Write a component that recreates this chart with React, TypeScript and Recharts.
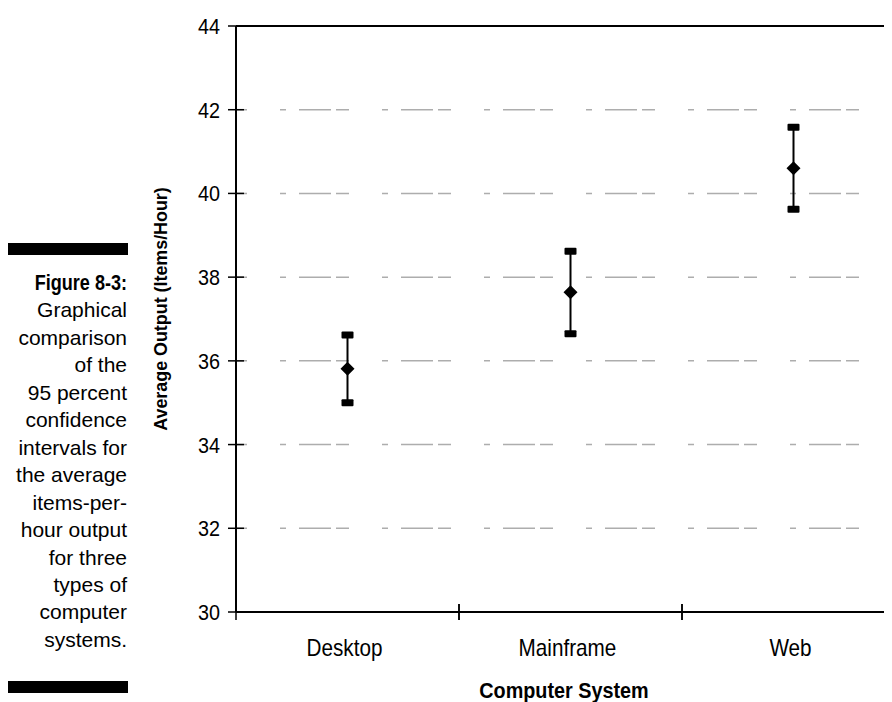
import React from 'react';
import {
  ComposedChart,
  Scatter,
  XAxis,
  YAxis,
  CartesianGrid,
  ErrorBar,
  ReferenceLine,
} from 'recharts';

// values (items per hour)
const systems = ['Desktop', 'Mainframe', 'Web'];
const means = [35.81, 37.64, 40.6];
const lowers = [35.0, 36.65, 39.62];
const uppers = [36.62, 38.62, 41.58];
const yTicks = [30, 32, 34, 36, 38, 40, 42, 44];

const captionLines = [
  'Graphical',
  'comparison',
  'of the',
  '95 percent',
  'confidence',
  'intervals for',
  'the average',
  'items-per-',
  'hour output',
  'for three',
  'types of',
  'computer',
  'systems.',
];

const data = systems.map((name, i) => ({
  name,
  mean: means[i],
  lower: lowers[i],
  upper: uppers[i],
  err: [means[i] - lowers[i], uppers[i] - means[i]],
}));

const FONT = "'Liberation Sans', Arial, sans-serif";
const CHART_W = 910;
const CHART_H = 694;
const PLOT_LEFT = 228;
const PLOT_RIGHT = 13;
const BAND = (CHART_W - PLOT_LEFT - PLOT_RIGHT) / systems.length;

// long / short dash pattern of the gridlines
const gridDash = '11 33 ' + Array(7).fill('6 13 32 5 13 33').join(' ');

const Diamond = (props: any) => {
  const { cx, cy } = props;
  if (cx == null || cy == null) return null;
  return <polygon points={`${cx},${cy - 7} ${cx + 7},${cy} ${cx},${cy + 7} ${cx - 7},${cy}`} fill="#000" />;
};

const Cap = (props: any) => {
  const { cx, cy } = props;
  if (cx == null || cy == null) return null;
  return <rect x={cx - 6} y={cy - 3.5} width={12} height={7} rx={1} fill="#000" />;
};

const YTick = (props: any) => {
  const { x, y, payload } = props;
  return (
    <g>
      <line x1={x + 8} x2={x + 24} y1={y} y2={y} stroke="#000" strokeWidth={1.5} />
      <text
        transform={`translate(${x},${y}) scale(0.9,1)`}
        dy={8}
        textAnchor="end"
        fontFamily={FONT}
        fontSize={22}
        fill="#000"
      >
        {payload.value}
      </text>
    </g>
  );
};

const XTick = (props: any) => {
  const { x, y, payload } = props;
  return (
    <g>
      <line x1={x - BAND / 2} x2={x - BAND / 2} y1={y - 8} y2={y + 8} stroke="#000" strokeWidth={1.5} />
      <line x1={x + BAND / 2} x2={x + BAND / 2} y1={y - 8} y2={y + 8} stroke="#000" strokeWidth={1.5} />
      <text
        transform={`translate(${x - 3},${y}) scale(0.9,1)`}
        dy={44}
        textAnchor="middle"
        fontFamily={FONT}
        fontSize={23}
        fill="#000"
      >
        {payload.value}
      </text>
    </g>
  );
};

export default function App() {
  return (
    <div style={{ position: 'relative', width: 884, height: 694, overflow: 'hidden', background: '#fff' }}>
      <div style={{ position: 'absolute', left: 0, top: 235, width: 120, height: 12, background: '#000' }} />
      <div
        style={{
          position: 'absolute',
          left: 0,
          top: 261,
          width: 119,
          textAlign: 'right',
          fontFamily: FONT,
          fontSize: 21,
          lineHeight: '27.46px',
          color: '#000',
        }}
      >
        <div
          style={{
            fontWeight: 'bold',
            fontSize: 22,
            whiteSpace: 'nowrap',
            transform: 'scaleX(0.82)',
            transformOrigin: 'right center',
          }}
        >
          Figure 8-3:
        </div>
        {captionLines.map((l) => (
          <div key={l} style={{ whiteSpace: 'nowrap' }}>{l}</div>
        ))}
      </div>
      <div style={{ position: 'absolute', left: 0, top: 673, width: 120, height: 12, background: '#000' }} />

      <div
        style={{
          position: 'absolute',
          left: 153,
          top: 301,
          transform: 'translate(-50%, -50%) rotate(-90deg) scaleX(0.94)',
          whiteSpace: 'nowrap',
          fontFamily: FONT,
          fontWeight: 'bold',
          fontSize: 19,
          color: '#000',
        }}
      >
        Average Output (Items/Hour)
      </div>
      <div
        style={{
          position: 'absolute',
          left: 556,
          top: 683,
          transform: 'translate(-50%, -50%) scaleX(0.9)',
          whiteSpace: 'nowrap',
          fontFamily: FONT,
          fontWeight: 'bold',
          fontSize: 22,
          color: '#000',
        }}
      >
        Computer System
      </div>

      <div style={{ position: 'absolute', left: 0, top: 0 }}>
        <ComposedChart
          width={CHART_W}
          height={CHART_H}
          data={data}
          margin={{ top: 18, right: PLOT_RIGHT, bottom: 0, left: 0 }}
        >
          <CartesianGrid
            vertical={false}
            stroke="#adadad"
            strokeWidth={1.5}
            strokeDasharray={gridDash}
          />
          <XAxis
            dataKey="name"
            type="category"
            scale="band"
            height={90}
            axisLine={{ stroke: '#000', strokeWidth: 2 }}
            tickLine={false}
            tickSize={0}
            tickMargin={0}
            tick={<XTick />}
            interval={0}
          />
          <YAxis
            type="number"
            domain={[30, 44]}
            ticks={yTicks}
            width={PLOT_LEFT}
            axisLine={{ stroke: '#000', strokeWidth: 2 }}
            tickLine={false}
            tickSize={8}
            tickMargin={8}
            tick={<YTick />}
            interval={0}
          />
          <ReferenceLine y={44} stroke="#000" strokeWidth={2} />
          <Scatter dataKey="mean" shape={<Diamond />} isAnimationActive={false}>
            <ErrorBar dataKey="err" direction="y" width={0} stroke="#000" strokeWidth={2} />
          </Scatter>
          <Scatter dataKey="upper" shape={<Cap />} isAnimationActive={false} />
          <Scatter dataKey="lower" shape={<Cap />} isAnimationActive={false} />
        </ComposedChart>
      </div>
    </div>
  );
}
